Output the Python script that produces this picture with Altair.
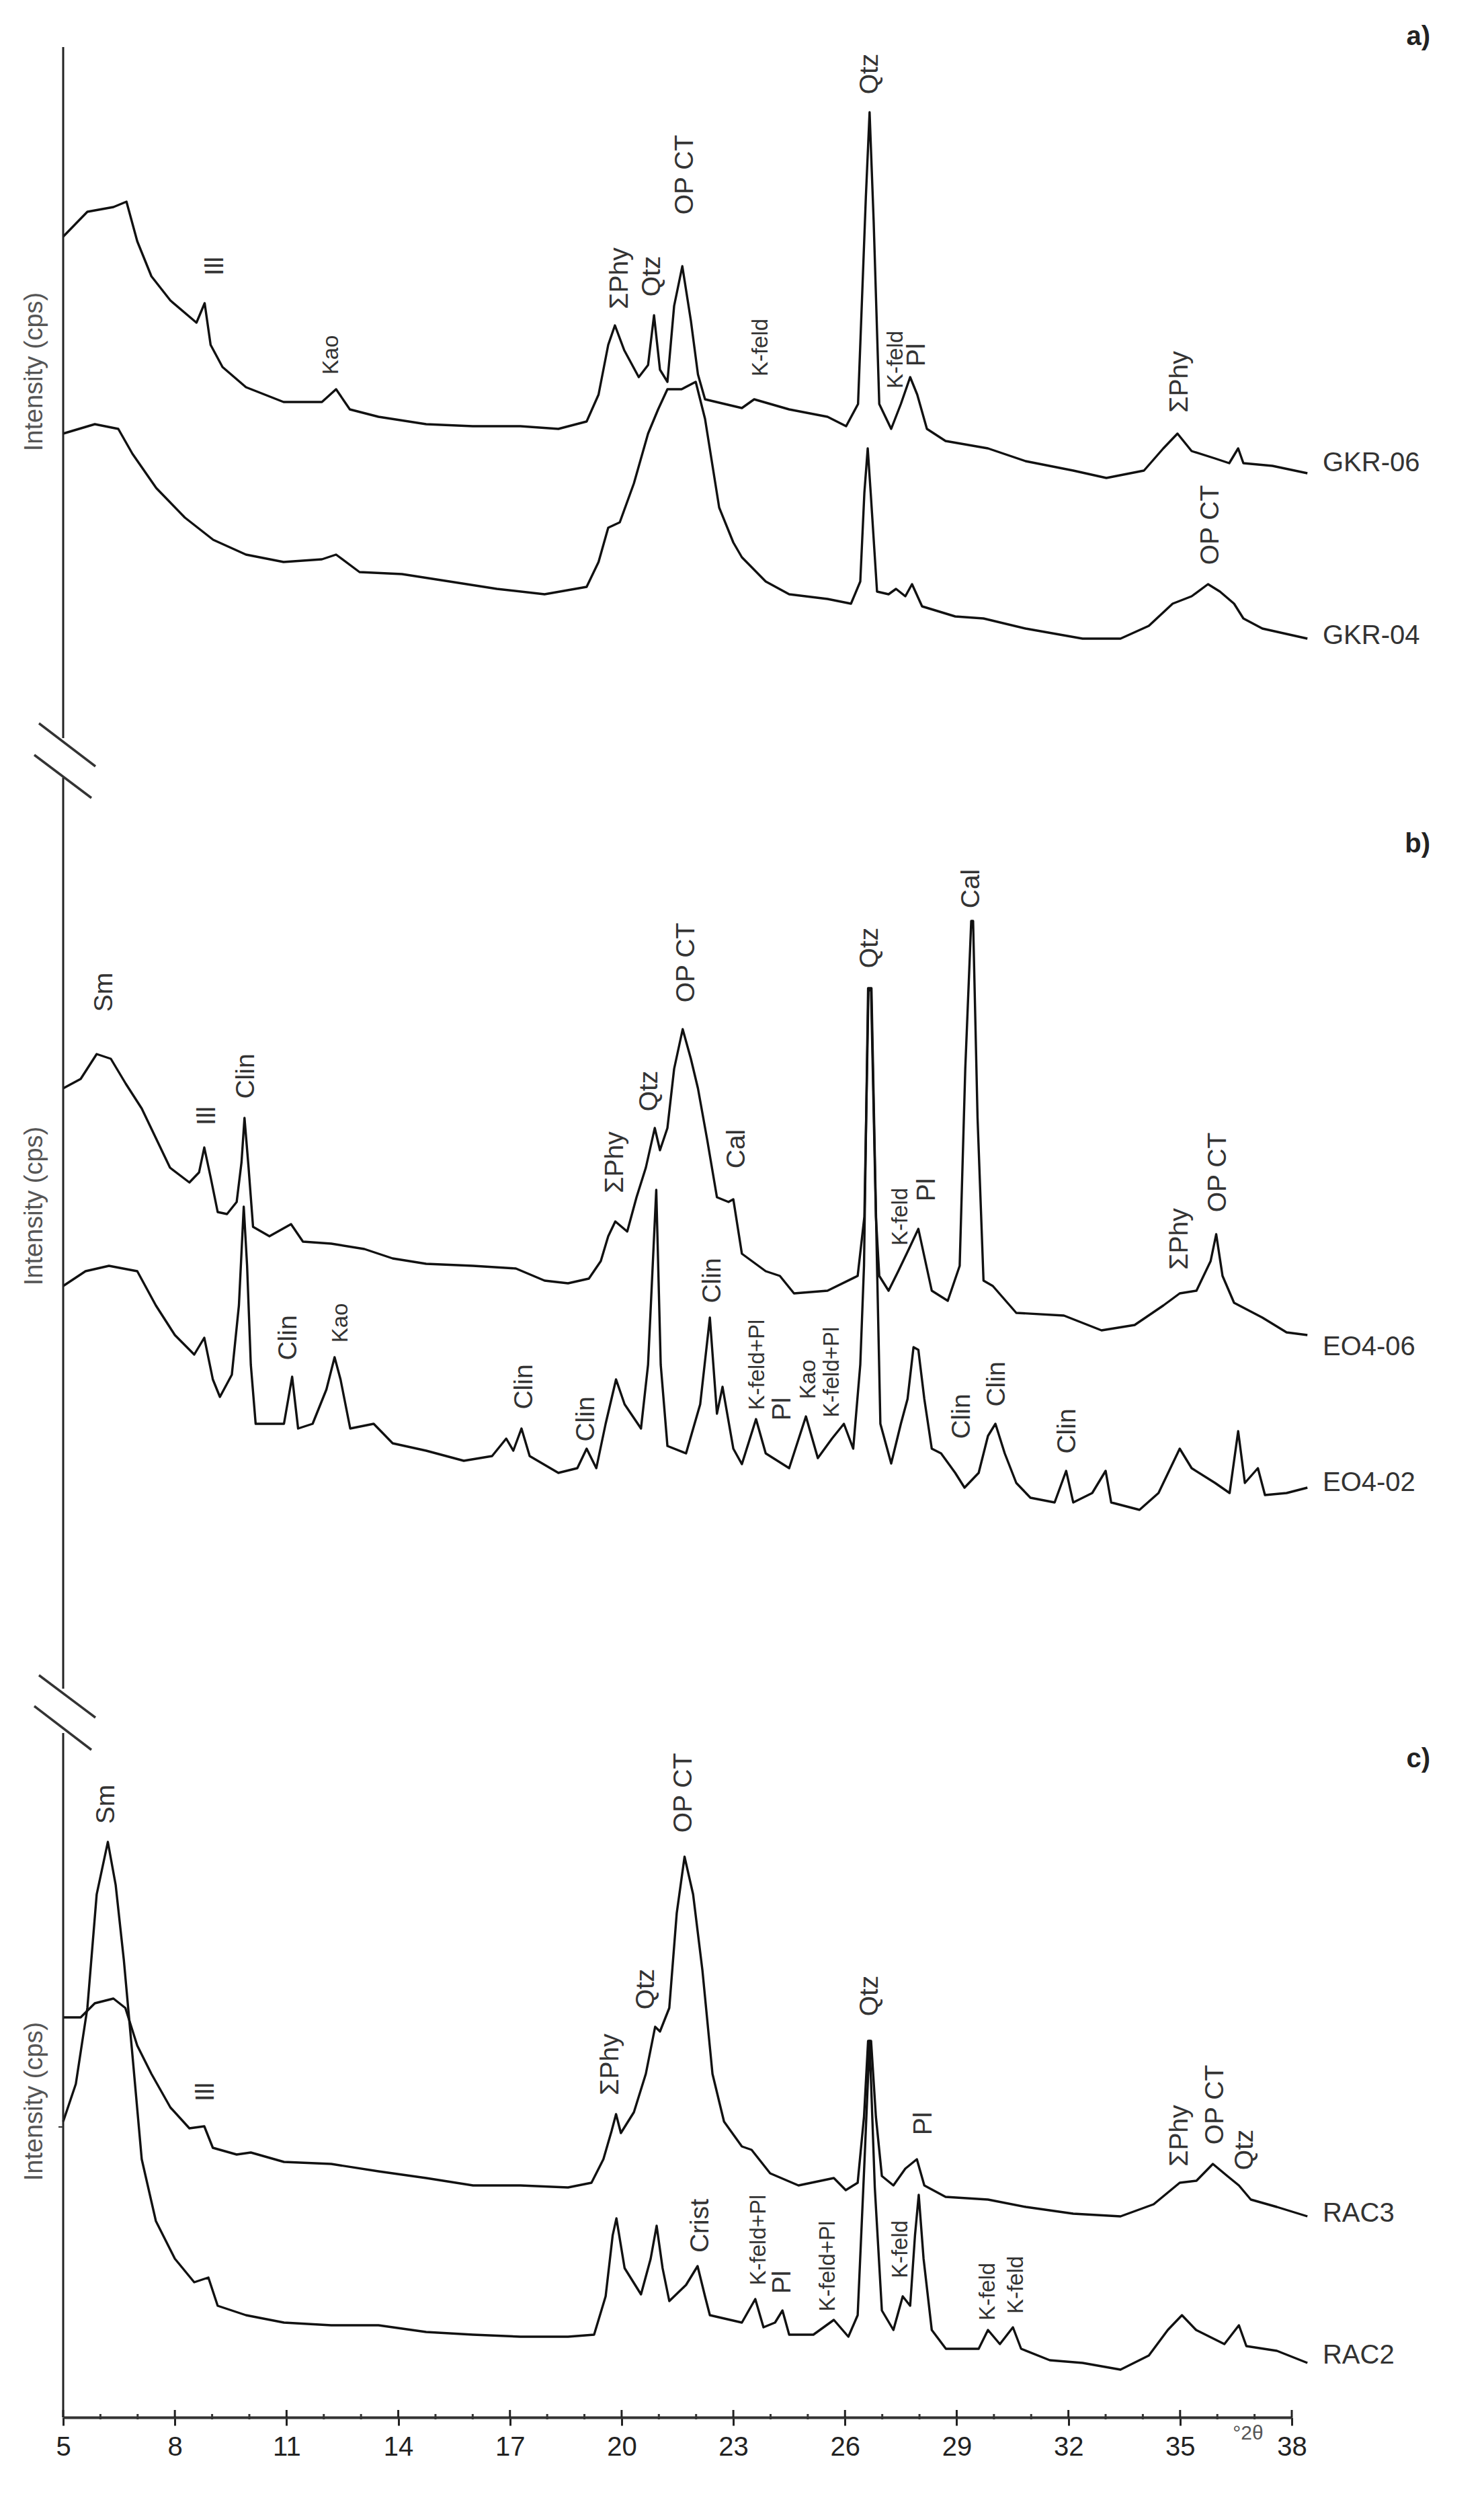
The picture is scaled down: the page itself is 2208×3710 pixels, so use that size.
import altair as alt
import pandas as pd

# ---------------- data ----------------
# 2-theta positions and intensities (arbitrary cps units above each trace's own base)
gkr06_tt = [5.0, 5.65, 6.35, 6.7, 6.99, 7.37, 7.88, 8.58, 8.8, 8.96, 9.28, 9.91, 10.92, 11.95, 12.33, 12.7,
            13.47, 14.75, 16.0, 17.28, 18.3, 19.06, 19.38, 19.64, 19.82, 20.07, 20.46, 20.71, 20.87, 21.03,
            21.23, 21.41, 21.63, 21.86, 22.05, 22.24, 23.23, 23.56, 24.5, 25.53, 26.03, 26.35, 26.56, 26.66,
            26.77, 26.92, 27.24, 27.5, 27.75, 27.94, 28.2, 28.7, 29.84, 30.85, 32.13, 33.02, 34.03, 34.55,
            34.93, 35.31, 35.94, 36.32, 36.56, 36.7, 37.48, 38.42]
gkr06_i = [368, 405, 412, 420, 361, 309, 273, 240, 269, 207, 174, 144, 122, 122, 141, 111,
           100, 89, 86, 86, 82, 93, 133, 207, 236, 199, 159, 177, 251, 170,
           152, 265, 324, 243, 163, 126, 113, 126, 111, 100, 86, 119, 427, 553,
           390, 119, 82, 119, 159, 133, 82, 64, 53, 34, 20, 9, 20, 53,
           75, 49, 38, 31, 53, 31, 27, 16]

gkr04_tt = [5.0, 5.85, 6.48, 6.86, 7.5, 8.27, 9.03, 9.91, 10.92, 11.95, 12.33, 12.96, 14.1, 15.38, 16.65,
            17.93, 19.06, 19.38, 19.64, 19.95, 20.33, 20.71, 20.98, 21.23, 21.61, 21.99, 22.24, 22.62, 23.0,
            23.23, 23.87, 24.5, 25.53, 26.16, 26.41, 26.52, 26.61, 26.69, 26.86, 27.17, 27.37, 27.62, 27.8,
            28.07, 28.96, 29.72, 30.85, 32.38, 33.4, 34.16, 34.8, 35.31, 35.75, 36.07, 36.45, 36.7, 37.21, 38.42]
gkr04_i = [315, 329, 322, 285, 234, 190, 157, 135, 124, 128, 135, 109, 106, 95, 84,
           76, 87, 124, 175, 183, 241, 315, 351, 381, 381, 392, 337, 205, 153,
           131, 95, 76, 69, 62, 95, 227, 293, 227, 80, 76, 84, 73, 91,
           58, 43, 40, 25, 10, 10, 29, 62, 73, 91, 80, 62, 40, 25, 10]

eo406_tt = [5.0, 5.47, 5.9, 6.28, 6.68, 7.11, 7.49, 7.87, 8.39, 8.65, 8.79, 8.96, 9.15, 9.4, 9.66, 9.79,
            9.87, 9.98, 10.1, 10.54, 11.12, 11.44, 12.2, 13.09, 13.85, 14.75, 16.01, 17.16, 17.93, 18.56,
            19.12, 19.44, 19.64, 19.83, 20.15, 20.4, 20.65, 20.89, 21.03, 21.23, 21.41, 21.64, 21.86, 22.05,
            22.3, 22.56, 22.87, 23.0, 23.23, 23.87, 24.25, 24.63, 25.53, 26.34, 26.52, 26.63, 26.7, 26.83,
            26.92, 27.17, 27.43, 27.75, 27.97, 28.13, 28.33, 28.76, 29.08, 29.23, 29.39, 29.44, 29.56, 29.72,
            29.97, 30.6, 31.88, 32.89, 33.78, 34.55, 34.99, 35.44, 35.82, 35.97, 36.14, 36.45, 37.21, 37.86, 38.42]
eo406_i = [371, 385, 422, 415, 378, 341, 297, 253, 231, 246, 283, 239, 187, 184, 202, 261,
           327, 253, 165, 151, 169, 143, 140, 132, 118, 110, 107, 103, 85, 81,
           88, 114, 151, 173, 158, 209, 253, 312, 279, 312, 400, 459, 415, 371,
           294, 209, 202, 206, 125, 99, 92, 66, 70, 92, 180, 517, 517, 180,
           92, 70, 99, 136, 162, 121, 70, 55, 107, 400, 620, 620, 327, 85,
           77, 37, 33, 11, 19, 48, 66, 70, 114, 154, 92, 52, 30, 8, 4]

eo402_tt = [5.0, 5.6, 6.23, 6.99, 7.49, 8.0, 8.52, 8.79, 9.02, 9.21, 9.53, 9.72, 9.85, 9.94, 10.04, 10.17,
            10.93, 11.15, 11.31, 11.7, 12.07, 12.29, 12.45, 12.71, 13.34, 13.85, 14.75, 15.76, 16.52, 16.9,
            17.09, 17.31, 17.53, 18.3, 18.81, 19.06, 19.32, 19.57, 19.85, 20.08, 20.52, 20.71, 20.93, 21.05,
            21.23, 21.73, 22.11, 22.37, 22.56, 22.71, 23.0, 23.23, 23.61, 23.87, 24.5, 24.95, 25.27, 25.65,
            25.97, 26.22, 26.41, 26.51, 26.62, 26.71, 26.86, 26.95, 27.24, 27.5, 27.68, 27.84, 27.97, 28.13,
            28.33, 28.58, 28.96, 29.21, 29.59, 29.84, 30.04, 30.29, 30.6, 30.98, 31.63, 31.94, 32.13, 32.64,
            33.0, 33.15, 33.91, 34.42, 34.99, 35.31, 35.94, 36.33, 36.56, 36.74, 37.09, 37.28, 37.86, 38.42]
eo402_i = [342, 364, 372, 364, 313, 269, 240, 265, 203, 177, 210, 313, 460, 372, 225, 137,
           137, 207, 130, 137, 188, 236, 203, 130, 137, 108, 97, 82, 89, 115,
           97, 130, 89, 64, 71, 100, 71, 137, 203, 166, 130, 225, 485, 225,
           104, 93, 166, 295, 152, 192, 100, 77, 144, 93, 71, 148, 86, 115,
           137, 100, 225, 372, 785, 785, 372, 137, 78, 137, 174, 251, 247, 174,
           100, 93, 64, 42, 64, 119, 137, 93, 49, 27, 20, 67, 20, 34,
           67, 20, 9, 34, 100, 71, 49, 34, 126, 49, 71, 31, 34, 42]

rac3_tt = [5.0, 5.47, 5.85, 6.35, 6.67, 6.99, 7.37, 7.88, 8.39, 8.79, 9.02, 9.66, 10.04, 10.93, 12.2, 13.47,
           14.75, 16.01, 17.28, 18.56, 19.19, 19.51, 19.73, 19.85, 19.98, 20.33, 20.65, 20.9, 21.03, 21.28,
           21.48, 21.69, 21.92, 22.17, 22.44, 22.75, 23.23, 23.49, 23.99, 24.75, 25.7, 26.02, 26.34, 26.51,
           26.62, 26.7, 26.83, 26.99, 27.3, 27.62, 27.93, 28.13, 28.7, 29.84, 30.86, 32.13, 33.4, 34.29,
           34.99, 35.44, 35.88, 36.27, 36.58, 36.9, 37.6, 38.42]
rac3_i = [304, 304, 325, 332, 318, 262, 220, 170, 139, 142, 110, 100, 103, 89, 86, 75,
          65, 54, 54, 51, 58, 93, 135, 160, 132, 163, 220, 290, 283, 318,
          459, 543, 487, 374, 220, 149, 112, 107, 72, 54, 65, 47, 58, 156,
          269, 269, 156, 68, 54, 79, 93, 54, 37, 33, 22, 12, 8, 26,
          58, 61, 86, 68, 54, 33, 22, 8]

rac2_tt = [5.0, 5.34, 5.65, 5.9, 6.2, 6.41, 6.63, 6.86, 7.11, 7.49, 8.0, 8.52, 8.9, 9.15, 9.91, 10.93,
           12.2, 13.47, 14.75, 16.01, 17.28, 18.56, 19.26, 19.57, 19.76, 19.86, 20.08, 20.52, 20.78, 20.94,
           21.1, 21.28, 21.73, 22.04, 22.24, 22.37, 23.23, 23.59, 23.81, 24.12, 24.32, 24.5, 25.15, 25.7,
           26.09, 26.34, 26.52, 26.66, 26.8, 26.99, 27.3, 27.55, 27.75, 27.88, 27.98, 28.11, 28.33, 28.71,
           29.59, 29.84, 30.16, 30.51, 30.73, 31.5, 32.38, 33.4, 34.16, 34.67, 35.05, 35.43, 36.19, 36.58,
           36.78, 37.6, 38.42]
rac2_i = [379, 435, 548, 717, 795, 731, 619, 478, 323, 231, 175, 140, 147, 105, 91, 80,
          76, 76, 66, 62, 59, 59, 62, 119, 210, 235, 161, 122, 175, 224,
          161, 112, 136, 164, 119, 91, 80, 115, 73, 80, 98, 62, 62, 84,
          59, 91, 316, 499, 281, 98, 69, 119, 105, 210, 270, 175, 69, 41,
          41, 69, 48, 73, 41, 24, 20, 10, 31, 69, 91, 69, 48, 76,
          45, 38, 20]

sample_names = ["GKR-06", "GKR-04", "EO4-06", "EO4-02", "RAC3", "RAC2"]
panel_names = ["a)", "b)", "c)"]

# mineral annotations: text, 2-theta, trace it belongs to, height above that trace's base
ann_text = ["Ill", "Kao", "ΣPhy", "Qtz", "OP CT", "K-feld", "Qtz", "K-feld", "Pl", "ΣPhy", "OP CT",
            "Sm", "Ill", "Clin", "ΣPhy", "Qtz", "OP CT", "Cal", "Qtz", "Cal", "K-feld", "Pl", "ΣPhy", "OP CT",
            "Clin", "Kao", "Clin", "Clin", "Clin", "K-feld+Pl", "Pl", "Kao", "K-feld+Pl", "Clin", "Clin", "Clin",
            "Sm", "Ill", "ΣPhy", "Qtz", "OP CT", "Crist", "Qtz", "Pl", "ΣPhy", "OP CT", "Qtz",
            "K-feld+Pl", "Pl", "K-feld+Pl", "K-feld", "K-feld", "K-feld"]
ann_tt = [9.08, 12.2, 19.95, 20.82, 21.7, 23.74, 26.66, 27.37, 27.93, 34.99, 35.82,
          6.1, 8.86, 9.91, 19.82, 20.74, 21.74, 23.09, 26.66, 29.39, 27.5, 28.2, 34.99, 36.02,
          11.05, 12.46, 17.38, 19.05, 22.44, 23.65, 24.32, 25.02, 25.65, 29.14, 30.08, 31.97,
          6.16, 8.83, 19.7, 20.65, 21.66, 22.11, 26.66, 28.11, 34.99, 35.94, 36.74,
          23.69, 24.32, 25.55, 27.5, 29.84, 30.6]
ann_trace = ["GKR-06"] * 10 + ["GKR-04"] + ["EO4-06"] * 13 + ["EO4-02"] * 12 + \
            ["RAC2", "RAC3", "RAC3", "RAC3", "RAC3", "RAC2", "RAC3", "RAC3", "RAC3", "RAC3", "RAC3"] + \
            ["RAC2"] * 6
ann_level = [324, 192, 306, 309, 460, 203, 610, 185, 192, 152, 179,
             514, 330, 389, 261, 367, 558, 281, 580, 668, 180, 220, 147, 246,
             265, 287, 192, 144, 350, 225, 159, 203, 214, 148, 196, 126,
             851, 193, 234, 346, 638, 224, 336, 146, 128, 174, 107,
             203, 140, 164, 189, 126, 136]
ann_small = ["Kao", "K-feld", "K-feld+Pl"]

# sample-name label heights relative to each trace base
name_level = [31, 14, -14, 49, 12, 31]

major_ticks = list(range(5, 39, 3))
minor_ticks = [t for t in range(5, 39) if t not in major_ticks]

# ---------------- layout (pixels / offsets) ----------------
W, H = 1828, 3576
OFFSET = {"GKR-06": 2876, "GKR-04": 2636, "EO4-06": 1606, "EO4-02": 1341, "RAC3": 291, "RAC2": 61}
FONT = "Liberation Sans"
INK = "#111111"

traces = {
    "GKR-06": (gkr06_tt, gkr06_i), "GKR-04": (gkr04_tt, gkr04_i),
    "EO4-06": (eo406_tt, eo406_i), "EO4-02": (eo402_tt, eo402_i),
    "RAC3": (rac3_tt, rac3_i), "RAC2": (rac2_tt, rac2_i),
}
rows = []
for name, (xs_, ys_) in traces.items():
    for xv, yv in zip(xs_, ys_):
        rows.append({"trace": name, "tt": xv, "y": yv + OFFSET[name]})
df = pd.DataFrame(rows)

ann = pd.DataFrame({
    "text": ann_text, "tt": ann_tt,
    "y": [lv + OFFSET[tr] for lv, tr in zip(ann_level, ann_trace)],
    "fs": [33 if t in ann_small else 39 for t in ann_text],
})

names = pd.DataFrame({
    "text": sample_names, "tt": [38.83] * 6,
    "y": [lv + OFFSET[n] for lv, n in zip(name_level, sample_names)],
})

xs = alt.Scale(domain=[5, 38], nice=False, zero=False)
ys = alt.Scale(domain=[0, H], nice=False, zero=False)

x_axis = alt.Axis(values=major_ticks, title=None, grid=False, domainColor="#333333", domainWidth=4,
                  tickColor="#222222", tickWidth=3, tickSize=12, labelFontSize=40, labelFont=FONT,
                  labelColor="#222222", labelPadding=12, labelFlush=False, labelOverlap=False, format="d")


def X(field="tt:Q"):
    return alt.X(field, scale=xs, axis=x_axis)


lines = alt.Chart(df).mark_line(strokeWidth=3.4, color=INK, strokeJoin="round").encode(
    x=X(),
    y=alt.Y("y:Q", scale=ys, axis=None),
    detail="trace:N",
    order="tt:Q",
)

labels = alt.Chart(ann).mark_text(angle=270, align="center", baseline="middle", font=FONT,
                                  color="#333333").encode(
    x=X(),
    y=alt.Y("y:Q", scale=ys, axis=None),
    text="text:N",
    size=alt.Size("fs:Q", scale=None, legend=None),
)

name_labels = alt.Chart(names).mark_text(align="left", baseline="middle", font=FONT, fontSize=40,
                                         color="#333333").encode(
    x=X(),
    y=alt.Y("y:Q", scale=ys, axis=None),
    text="text:N",
)

major_df = pd.DataFrame({"tt": major_ticks})
minor_df = pd.DataFrame({"tt": minor_ticks})
major_up = alt.Chart(major_df).mark_rule(color="#222222", strokeWidth=3).encode(
    x=X(), y=alt.value(H - 11), y2=alt.value(H))
minor_up = alt.Chart(minor_df).mark_rule(color="#333333", strokeWidth=3).encode(
    x=X(), y=alt.value(H - 5), y2=alt.value(H + 3))

# broken y axis
seg_df = pd.DataFrame({"y0": [50, 1137, 2558], "y1": [1078, 2492, H]})
yaxis = alt.Chart(seg_df).mark_rule(color="#222222", strokeWidth=3).encode(
    x=alt.value(0), y=alt.Y("y0:Q", scale=None), y2="y1:Q")
brk_df = pd.DataFrame({"xa": [-36, -43, -36, -43], "xb": [48, 42, 48, 42],
                       "ya": [1056, 1103, 2472, 2518], "yb": [1120, 1167, 2535, 2583]})
breaks = alt.Chart(brk_df).mark_rule(color="#333333", strokeWidth=3.5).encode(
    x=alt.X("xa:Q", scale=None), x2="xb:Q", y=alt.Y("ya:Q", scale=None), y2="yb:Q")
small_tick = alt.Chart(pd.DataFrame({"a": [0]})).mark_rule(color="#333333", strokeWidth=2).encode(
    x=alt.value(-7), x2=alt.value(0), y=alt.value(3144), y2=alt.value(3144))

ititle_df = pd.DataFrame({"t": ["Intensity (cps)"] * 3, "py": [533, 1774, 3106]})
ititles = alt.Chart(ititle_df).mark_text(angle=270, align="center", baseline="middle", font=FONT,
                                         fontSize=38, color="#555555").encode(
    x=alt.value(-42), y=alt.Y("py:Q", scale=None), text="t:N")

panel_df = pd.DataFrame({"t": panel_names, "py": [35, 1236, 2597]})
panels = alt.Chart(panel_df).mark_text(align="right", baseline="middle", font=FONT, fontSize=40,
                                       fontWeight="bold", color="#222222").encode(
    x=alt.value(2034), y=alt.Y("py:Q", scale=None), text="t:N")

unit = alt.Chart(pd.DataFrame({"t": ["°2θ"]})).mark_text(align="center", baseline="middle", font=FONT,
                                                         fontSize=30, color="#555555").encode(
    x=alt.value(1763), y=alt.value(3600), text="t:N")

chart = alt.layer(lines, labels, name_labels, major_up, minor_up, yaxis, breaks, small_tick,
                  ititles, panels, unit).properties(
    width=W, height=H,
    autosize=alt.AutoSizeParams(type="none"),
    padding={"left": 86, "top": 12, "right": 278, "bottom": 106},
    background="white",
).configure_view(stroke=None)

chart.save("out.html", embed_options={"renderer": "svg", "actions": False})
